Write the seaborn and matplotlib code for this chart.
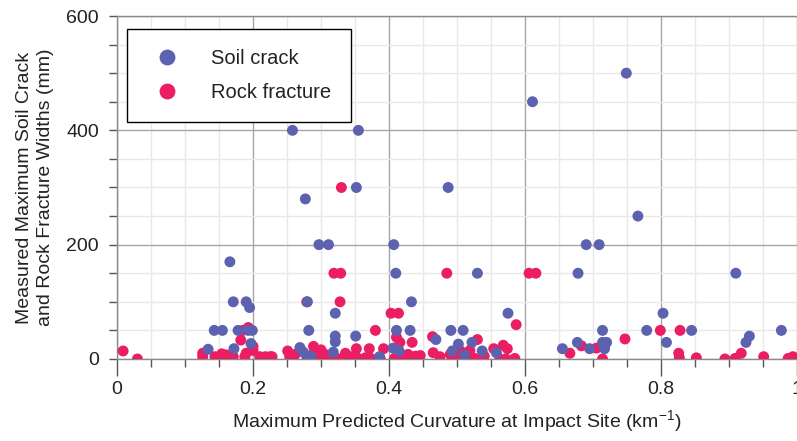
import pandas as pd
import numpy as np
import seaborn as sns
import matplotlib as mpl
import matplotlib.pyplot as plt
from matplotlib.ticker import MultipleLocator

# 데이터: 토양 균열 (Soil crack)
soil_x = [0.134, 0.143, 0.155, 0.166, 0.171, 0.172, 0.178, 0.190, 0.193, 0.195, 0.197, 0.199,
          0.258, 0.269, 0.274, 0.277, 0.279, 0.280, 0.282, 0.285, 0.297, 0.311, 0.318, 0.321, 0.321, 0.321,
          0.351, 0.352, 0.355, 0.386, 0.406, 0.407, 0.410, 0.411, 0.415, 0.431, 0.433, 0.469, 0.487,
          0.491, 0.493, 0.502, 0.509, 0.511, 0.522, 0.530, 0.537, 0.558, 0.575, 0.611,
          0.655, 0.677, 0.678, 0.690, 0.695, 0.709, 0.714, 0.714, 0.717, 0.720, 0.749, 0.766,
          0.779, 0.803, 0.808, 0.845, 0.910, 0.925, 0.930, 0.977]
soil_y = [17, 50, 50, 170, 100, 18, 50, 100, 50, 90, 27, 50,
          400, 20, 12, 280, 5, 100, 50, 5, 200, 200, 12, 80, 40, 30,
          40, 300, 400, 4, 19, 200, 150, 50, 14, 50, 100, 34, 300,
          50, 14, 26, 50, 7, 29, 150, 14, 11, 80, 450,
          18, 29, 150, 200, 18, 200, 50, 29, 18, 29, 500, 250,
          50, 80, 29, 50, 150, 29, 40, 50]

# 데이터: 암석 균열 (Rock fracture)
rock_x = [0.009, 0.030, 0.126, 0.126, 0.144, 0.154, 0.161, 0.171, 0.182, 0.185, 0.188, 0.190,
          0.193, 0.200, 0.200, 0.210, 0.218, 0.225, 0.228, 0.251, 0.254, 0.257, 0.262, 0.279,
          0.289, 0.290, 0.297, 0.300, 0.306, 0.310, 0.312, 0.319, 0.322, 0.328, 0.329, 0.330,
          0.330, 0.336, 0.342, 0.345, 0.352, 0.353, 0.365, 0.371, 0.373, 0.380, 0.387, 0.392,
          0.403, 0.408, 0.411, 0.414, 0.416, 0.417, 0.425, 0.428, 0.434, 0.439, 0.446, 0.464,
          0.465, 0.475, 0.485, 0.490, 0.498, 0.505, 0.515, 0.519, 0.526, 0.530, 0.540, 0.554,
          0.563, 0.568, 0.572, 0.574, 0.585, 0.587, 0.606, 0.616,
          0.666, 0.683, 0.705, 0.714, 0.747, 0.799, 0.826, 0.827, 0.828, 0.852, 0.894,
          0.909, 0.918, 0.951, 0.987, 0.994]
rock_y = [14, 0, 10, 4, 4, 9, 7, 4, 33, 50, 4, 10,
          55, 15, 22, 4, 4, 4, 4, 14, 4, 5, 8, 100,
          22, 12, 5, 16, 8, 4, 4, 150, 2, 100, 150, 300,
          0, 10, 1, 4, 18, 2, 2, 18, 1, 50, 1, 18,
          80, 1, 38, 80, 29, 5, 5, 8, 29, 5, 6, 39,
          11, 4, 150, 8, 0, 14, 0, 15, 1, 34, 5, 18,
          0, 24, 0, 18, 1, 60, 150, 150,
          10, 23, 19, 0, 35, 50, 10, 2, 50, 2, 0,
          1, 10, 4, 1, 4]

labels = ["Soil crack", "Rock fracture"]

df = pd.concat([
    pd.DataFrame({"x": rock_x, "y": rock_y, "type": labels[1]}),
    pd.DataFrame({"x": soil_x, "y": soil_y, "type": labels[0]}),
], ignore_index=True)

sns.set_style("white")
plt.rcParams['font.family'] = ['Liberation Sans', 'DejaVu Sans']

fig = plt.figure(figsize=(7.97, 4.41), dpi=100)
ax = fig.add_axes([0.1468, 0.186, 0.8532, 0.7777])

sns.scatterplot(data=df, x="x", y="y", hue="type", hue_order=labels,
                palette=["#5c62b0", "#ec1e63"], s=62, edgecolor="none",
                ax=ax, zorder=3, clip_on=True)

ax.set_xlim(0, 1)
ax.set_ylim(0, 600)
ax.xaxis.set_minor_locator(MultipleLocator(0.05))
ax.yaxis.set_major_locator(MultipleLocator(200))
ax.yaxis.set_minor_locator(MultipleLocator(50))
ax.set_xticks([0, 0.2, 0.4, 0.6, 0.8, 1.0])
ax.set_xticklabels(["0", "0.2", "0.4", "0.6", "0.8", "1"])

ax.grid(which="minor", color="#e8e8e8", lw=1, zorder=0)
ax.grid(which="major", color="#a6a6a6", lw=1, zorder=1)
ax.set_axisbelow(True)

for side in ["left", "bottom", "top"]:
    ax.spines[side].set_color("#8a8a8a")
    ax.spines[side].set_linewidth(1)
ax.spines["right"].set_visible(False)

ax.tick_params(axis="both", which="both", direction="out", colors="#555555", labelcolor="#222222")
ax.tick_params(axis="x", which="major", length=12, width=1, labelsize=14, pad=4)
ax.tick_params(axis="x", which="minor", length=6, width=1)
ax.tick_params(axis="y", which="major", length=6, width=1, labelsize=14, pad=7)
ax.tick_params(axis="y", which="minor", length=6, width=1)
ax.tick_params(bottom=True, left=True, which="both")

ax.set_xlabel("Maximum Predicted Curvature at Impact Site (km$^{\\mathregular{-1}}$)",
              fontsize=14, color="#222222", labelpad=7)
ax.set_ylabel("Measured Maximum Soil Crack\nand Rock Fracture Widths (mm)",
              fontsize=14, color="#222222", labelpad=9, linespacing=1.25)

leg = ax.legend(loc="upper left", bbox_to_anchor=(0.015, 0.963), frameon=True,
                fancybox=False, edgecolor="black", framealpha=1, fontsize=14.5,
                markerscale=1.45, borderpad=1.0, labelspacing=0.75,
                handletextpad=1.15, borderaxespad=0, title=None)
leg.get_frame().set_linewidth(1)
for t in leg.get_texts():
    t.set_color("#222222")

fig.savefig("out.png", dpi=100)
